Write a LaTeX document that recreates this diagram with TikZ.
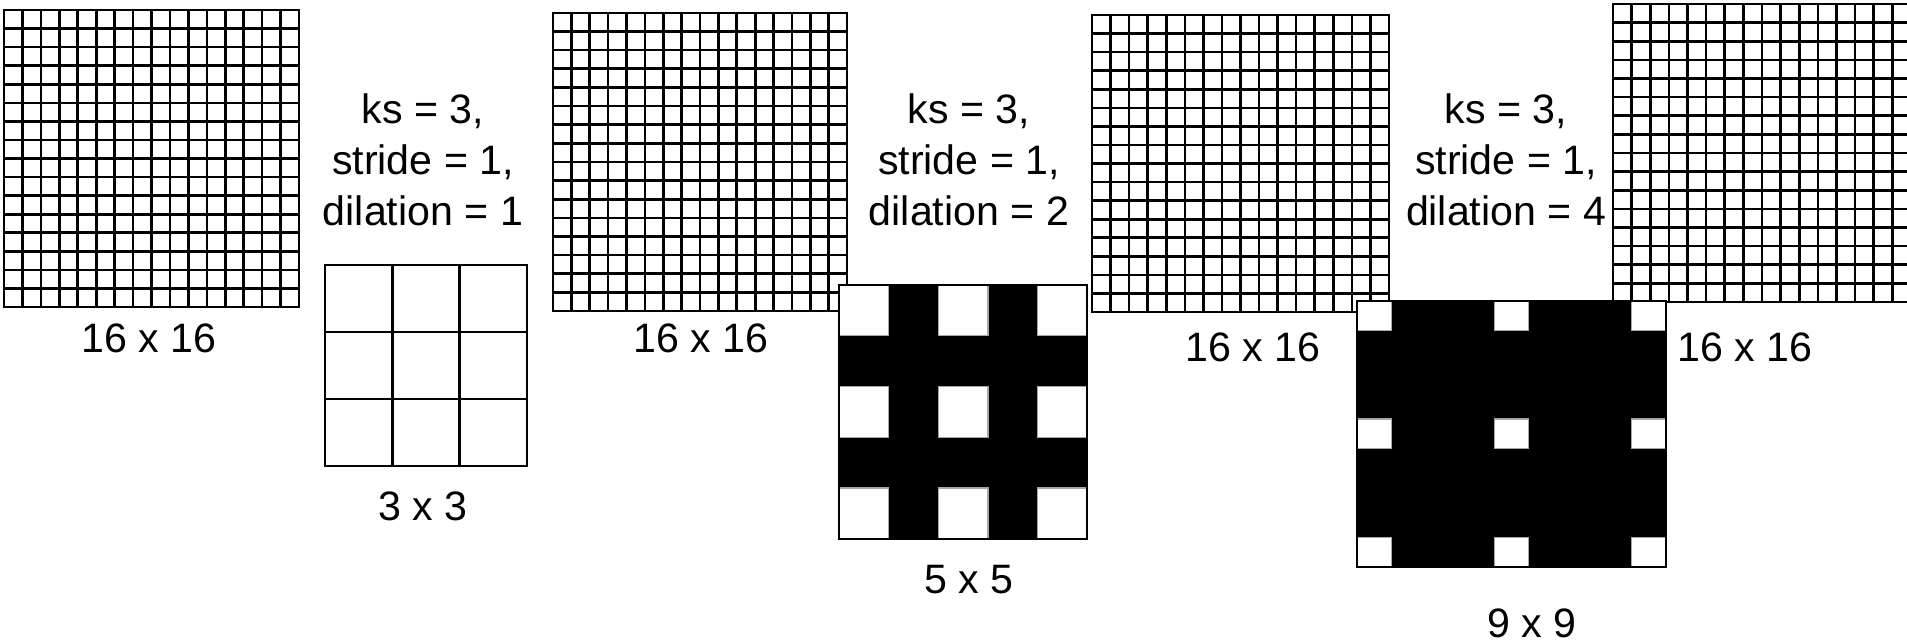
\documentclass[tikz,border=0pt]{standalone}
\usepackage{fontspec}
\setmainfont{Liberation Sans}
\begin{document}
\begin{tikzpicture}[x=0.1mm, y=0.1mm, line width=0.75pt,
  lbl/.style={font=\fontsize{11.7}{14.5}\selectfont, inner sep=0pt},
  params/.style={lbl, align=center},
  hole/.style={fill=white, draw=gray!70, line width=0.4pt}]
\useasboundingbox (0,0) rectangle (1907,644);
\clip (0,0) rectangle (1907,644);
\begin{scope}[shift={(4,337)}, x=1.844mm, y=1.856mm]
\draw[step=1] (0,0) grid (16,16) (0,0) rectangle (16,16);
\end{scope}
\node[lbl] (in1) at (149,306) {16 x 16};
\node[params] (p1) at (423,484) {ks = 3,\\ stride = 1,\\ dilation = 1};
\begin{scope}[shift={(325,178)}, x=6.73mm, y=6.7mm]
\draw[step=1] (0,0) grid (3,3) (0,0) rectangle (3,3);
\end{scope}
\node[lbl] (k1) at (423,138) {3 x 3};
\begin{scope}[shift={(553,333)}, x=1.838mm, y=1.863mm]
\draw[step=1] (0,0) grid (16,16) (0,0) rectangle (16,16);
\end{scope}
\node[lbl] (in2) at (701,306) {16 x 16};
\node[params] (p2) at (969,484) {ks = 3,\\ stride = 1,\\ dilation = 2};
\begin{scope}[shift={(839,105)}, x=4.96mm, y=5.08mm]
\fill[black] (0,0) rectangle (5,5);
\foreach \i in {0,2,4}
  \foreach \j in {0,2,4}
    \filldraw[hole] (\i,\j) rectangle ++(1,1);
\draw (0,0) rectangle (5,5);
\end{scope}
\node[lbl] (k2) at (969,64) {5 x 5};
\begin{scope}[shift={(1092,332)}, x=1.856mm, y=1.856mm]
\draw[step=1] (0,0) grid (16,16) (0,0) rectangle (16,16);
\end{scope}
\node[lbl] (in3) at (1253,297) {16 x 16};
\node[params] (p3) at (1506,484) {ks = 3,\\ stride = 1,\\ dilation = 4};
\begin{scope}[shift={(1613,342)}, x=1.862mm, y=1.862mm]
\draw[step=1] (0,0) grid (16,16) (0,0) rectangle (16,16);
\end{scope}
\begin{scope}[shift={(1357,77)}, x=3.433mm, y=2.956mm]
\fill[black] (0,0) rectangle (9,9);
\foreach \i in {0,4,8}
  \foreach \j in {0,4,8}
    \filldraw[hole] (\i,\j) rectangle ++(1,1);
\draw (0,0) rectangle (9,9);
\end{scope}
\node[lbl] (in4) at (1745,297) {16 x 16};
\node[lbl] (k3) at (1532,21) {9 x 9};
\end{tikzpicture}
\end{document}
